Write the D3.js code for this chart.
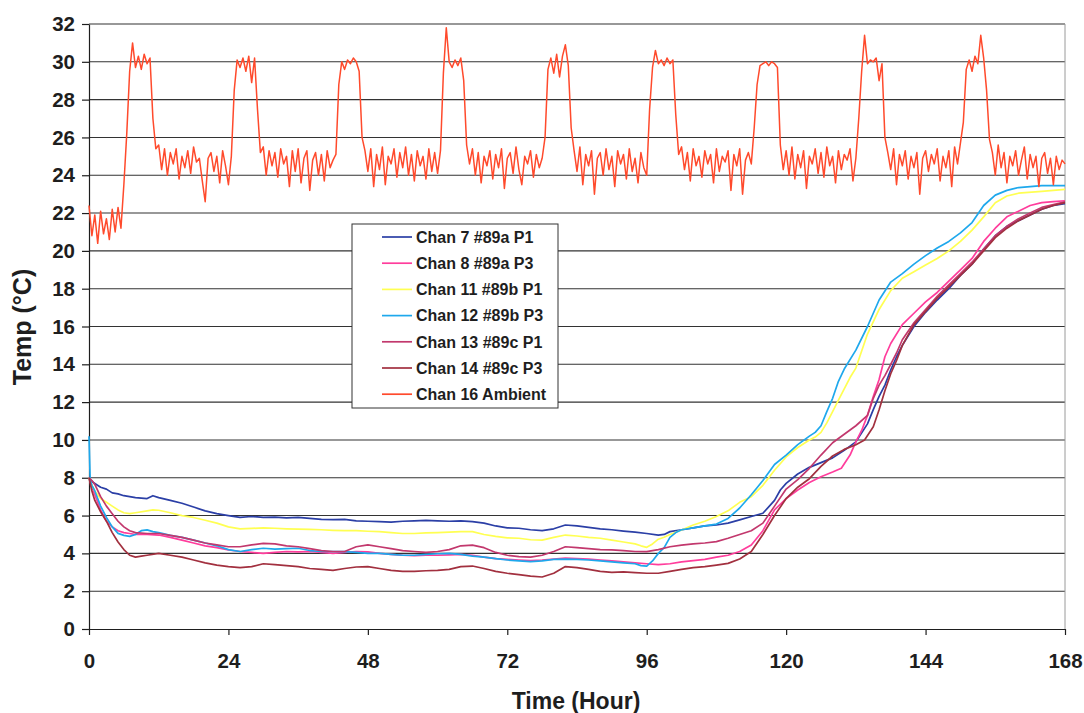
<!DOCTYPE html>
<html><head><meta charset="utf-8">
<script src="https://cdn.jsdelivr.net/npm/d3@7"></script>
<style>
body{margin:0;background:#fff}
text{font-family:"Liberation Sans",Arial,sans-serif;font-weight:bold;fill:#1e1e1e}
</style>
</head><body>
<svg id="chart" width="1084" height="713"></svg>
<script>
// ---------- data ----------
const xTicks = [0, 24, 48, 72, 96, 120, 144, 168];
const yTicks = [0, 2, 4, 6, 8, 10, 12, 14, 16, 18, 20, 22, 24, 26, 28, 30, 32];
const seriesNames = ["Chan 7 #89a P1", "Chan 8 #89a P3", "Chan 11 #89b P1", "Chan 12 #89b P3", "Chan 13 #89c P1", "Chan 14 #89c P3", "Chan 16 Ambient"];
const seriesColors = ["#2b3fa6", "#ff3d9c", "#ffff52", "#1ea8ec", "#c2386d", "#a2303f", "#ff4a2c"];

const chan7 = [[0,8.0],[0.5,7.8],[1,7.7],[2,7.5],[3,7.4],[4,7.2],[5,7.15],[6,7.05],[8,6.95],[10,6.9],[11,7.05],[12,6.95],[14,6.8],[16,6.65],[18,6.45],[20,6.25],[22,6.1],[24,6.0],[26,5.9],[28,5.95],[30,5.9],[32,5.92],[34,5.88],[36,5.9],[38,5.85],[40,5.8],[42,5.78],[44,5.8],[46,5.72],[48,5.7],[50,5.68],[52,5.65],[54,5.7],[56,5.72],[58,5.75],[60,5.72],[62,5.7],[64,5.72],[66,5.68],[68,5.6],[70,5.45],[72,5.35],[74,5.33],[76,5.25],[78,5.2],[80,5.3],[82,5.5],[84,5.45],[86,5.38],[88,5.3],[90,5.25],[92,5.18],[94,5.12],[96,5.05],[98,4.97],[99,5.0],[100,5.15],[102,5.25],[104,5.35],[106,5.45],[108,5.5],[110,5.6],[112,5.77],[114,5.95],[116,6.12],[118,6.8],[119,7.35],[120,7.7],[122,8.2],[124,8.55],[126,8.8],[128,9.05],[130,9.45],[132,9.9],[134,10.85],[135,11.6],[136,12.3],[137,12.9],[138,13.7],[139,14.4],[140,15.0],[142,16.0],[144,16.75],[146,17.4],[148,18.0],[150,18.7],[152,19.3],[154,20.1],[156,20.8],[158,21.3],[160,21.6],[162,21.9],[164,22.2],[166,22.4],[168,22.5]];

const chan8 = [[0,8.0],[0.5,7.5],[1,7.1],[2,6.3],[3,5.7],[4,5.4],[5,5.2],[6,5.1],[7,5.05],[8,5.0],[10,5.0],[12,4.97],[14,4.85],[16,4.7],[18,4.55],[20,4.4],[22,4.3],[24,4.18],[26,4.1],[28,4.05],[30,4.0],[32,4.05],[34,4.1],[36,4.08],[38,4.1],[40,4.05],[42,4.0],[44,4.05],[46,4.1],[48,4.08],[50,4.0],[52,3.95],[54,3.9],[56,3.88],[58,3.9],[60,3.9],[62,3.92],[64,3.95],[66,3.9],[68,3.8],[70,3.72],[72,3.68],[74,3.65],[76,3.62],[78,3.65],[80,3.7],[82,3.75],[84,3.72],[86,3.7],[88,3.65],[90,3.6],[92,3.55],[94,3.5],[96,3.45],[98,3.4],[100,3.45],[102,3.55],[104,3.62],[106,3.68],[108,3.8],[110,3.9],[112,4.1],[114,4.44],[116,5.2],[118,6.3],[120,6.9],[122,7.35],[124,7.75],[126,8.05],[128,8.3],[129.5,8.5],[131,9.2],[132,9.9],[133,10.5],[134,11.3],[135,12.3],[136,13.2],[137,14.4],[138,15.1],[140,16.1],[142,16.7],[144,17.3],[146,17.8],[148,18.4],[150,19.0],[152,19.6],[154,20.5],[156,21.2],[158,21.8],[160,22.1],[162,22.4],[164,22.55],[166,22.6],[168,22.65]];

const chan11 = [[0,8.0],[0.5,7.6],[1,7.3],[2,6.9],[3,6.7],[4,6.5],[5,6.3],[6,6.15],[7,6.1],[8,6.15],[10,6.25],[11,6.3],[12,6.28],[14,6.15],[16,6.0],[18,5.9],[20,5.75],[22,5.6],[24,5.4],[26,5.3],[28,5.32],[30,5.35],[32,5.33],[34,5.3],[36,5.28],[38,5.27],[40,5.25],[42,5.22],[44,5.2],[46,5.2],[48,5.17],[50,5.15],[52,5.1],[54,5.05],[56,5.05],[58,5.08],[60,5.1],[62,5.12],[64,5.15],[66,5.15],[68,5.0],[70,4.9],[72,4.82],[74,4.8],[76,4.72],[78,4.7],[80,4.85],[82,4.97],[84,4.92],[86,4.85],[88,4.8],[90,4.7],[92,4.6],[94,4.5],[95,4.4],[96,4.32],[97,4.5],[98,4.75],[99,4.85],[100,5.0],[102,5.24],[104,5.5],[106,5.7],[108,5.95],[110,6.25],[112,6.7],[114,7.0],[116,7.6],[118,8.4],[120,9.1],[122,9.6],[124,10.0],[125,10.15],[126,10.4],[127,10.9],[128,11.5],[129,12.1],[130,12.7],[131,13.3],[132,13.8],[134,15.6],[136,16.9],[138,17.9],[140,18.55],[142,18.9],[144,19.25],[146,19.6],[148,20.0],[150,20.5],[152,21.1],[154,21.8],[156,22.55],[158,22.9],[160,23.05],[164,23.15],[168,23.25]];

const chan12 = [[0,10.2],[0.2,7.9],[0.5,7.6],[1,7.3],[2,6.5],[3,5.9],[4,5.4],[5,5.06],[6,4.95],[7,4.9],[8,5.0],[9,5.2],[10,5.24],[11,5.15],[12,5.1],[14,4.95],[16,4.85],[18,4.7],[20,4.55],[22,4.4],[24,4.2],[26,4.1],[28,4.2],[30,4.27],[32,4.22],[34,4.25],[36,4.27],[38,4.15],[40,4.1],[42,4.1],[44,4.09],[46,4.05],[48,4.0],[50,4.0],[52,3.95],[54,3.9],[56,3.9],[58,3.95],[60,3.98],[62,4.0],[64,3.95],[66,3.85],[68,3.8],[70,3.72],[72,3.65],[74,3.6],[76,3.56],[78,3.6],[80,3.68],[82,3.7],[84,3.68],[86,3.65],[88,3.6],[90,3.55],[92,3.5],[94,3.45],[95,3.35],[96,3.33],[97,3.6],[98,4.0],[99,4.3],[100,4.85],[101,5.1],[102,5.25],[104,5.35],[106,5.45],[108,5.55],[110,5.85],[112,6.4],[114,7.1],[116,7.85],[118,8.7],[120,9.2],[122,9.75],[124,10.2],[125,10.4],[126,10.75],[127,11.5],[128,12.2],[129,13.1],[130,13.75],[132,14.75],[134,16.0],[136,17.4],[138,18.35],[140,18.8],[142,19.3],[144,19.75],[146,20.15],[148,20.5],[150,20.95],[152,21.5],[154,22.4],[156,22.95],[158,23.2],[160,23.35],[164,23.45],[168,23.45]];

const chan13 = [[0,8.0],[0.5,7.85],[1,7.65],[2,7.0],[3,6.5],[4,6.1],[5,5.7],[6,5.4],[7,5.2],[8,5.1],[10,5.05],[12,5.05],[14,4.95],[16,4.85],[18,4.7],[20,4.55],[22,4.45],[24,4.35],[26,4.35],[28,4.45],[30,4.53],[32,4.5],[34,4.4],[36,4.35],[38,4.25],[40,4.15],[42,4.1],[44,4.1],[46,4.35],[48,4.45],[50,4.35],[52,4.25],[54,4.15],[56,4.1],[58,4.05],[60,4.1],[62,4.2],[64,4.4],[66,4.44],[68,4.3],[70,4.05],[72,3.9],[74,3.83],[76,3.8],[78,3.9],[80,4.1],[82,4.35],[84,4.3],[86,4.25],[88,4.2],[90,4.18],[92,4.15],[94,4.1],[96,4.09],[98,4.2],[100,4.35],[102,4.44],[104,4.5],[106,4.55],[108,4.62],[110,4.8],[112,5.0],[114,5.2],[116,5.6],[118,6.5],[120,7.4],[122,7.9],[124,8.5],[126,9.2],[128,9.85],[130,10.3],[132,10.75],[134,11.3],[135,12.2],[136,12.9],[137,13.4],[138,14.0],[139,14.6],[140,15.3],[142,16.2],[144,16.9],[146,17.6],[148,18.2],[150,18.8],[152,19.4],[154,20.1],[156,20.8],[158,21.3],[160,21.7],[162,22.0],[164,22.3],[166,22.45],[168,22.6]];

const chan14 = [[0,8.0],[0.5,7.3],[1,6.8],[2,6.2],[3,5.7],[4,5.1],[5,4.6],[6,4.2],[7,3.9],[8,3.8],[9,3.85],[10,3.9],[12,4.0],[14,3.9],[16,3.8],[18,3.65],[20,3.5],[22,3.38],[24,3.3],[26,3.25],[28,3.3],[30,3.45],[32,3.4],[34,3.35],[36,3.3],[38,3.2],[40,3.15],[42,3.1],[44,3.2],[46,3.28],[48,3.3],[50,3.2],[52,3.1],[54,3.05],[56,3.05],[58,3.08],[60,3.1],[62,3.15],[64,3.3],[66,3.33],[68,3.2],[70,3.05],[72,2.95],[74,2.88],[76,2.8],[78,2.75],[80,2.95],[82,3.3],[84,3.25],[86,3.15],[88,3.05],[90,3.0],[92,3.02],[94,2.98],[96,2.95],[98,2.95],[100,3.05],[102,3.15],[104,3.25],[106,3.3],[108,3.38],[110,3.47],[112,3.7],[114,4.1],[116,5.0],[118,6.0],[120,6.9],[122,7.5],[124,7.95],[126,8.6],[128,9.15],[130,9.5],[132,9.75],[133.5,10.0],[135,10.7],[136,11.6],[137,12.6],[138,13.5],[139,14.2],[140,15.0],[142,16.1],[144,16.8],[146,17.5],[148,18.1],[150,18.7],[152,19.3],[154,20.0],[156,20.7],[158,21.2],[160,21.6],[162,21.9],[164,22.2],[166,22.4],[168,22.55]];

// Chan 16 ambient, one reading every half hour from 0 h to 168 h
const ambientStep = 0.5;
const ambient = [
22.4,20.8,21.9,20.4,22.1,20.9,21.7,20.6,22.2,21.0,22.3,21.2,23.5,26.2,29.5,31.0,29.7,30.3,29.6,30.4,29.9,30.2,27.0,25.4,
25.6,24.3,25.4,24.0,25.2,24.6,25.4,23.8,25.0,24.4,25.3,24.1,25.5,24.7,24.9,23.7,22.6,24.9,25.2,24.2,25.0,23.6,25.3,24.5,23.5,
25.0,28.5,30.1,29.7,30.2,29.5,30.3,28.9,30.2,27.5,25.2,
25.5,24.0,25.3,24.5,25.2,23.9,25.4,24.6,25.0,23.4,25.3,24.2,25.4,23.6,24.9,25.3,23.2,24.8,25.2,24.0,25.1,23.7,25.3,24.4,24.8,
25.1,28.8,30.0,29.6,30.1,29.9,30.2,30.0,29.5,26.0,25.3,
24.2,25.4,23.4,25.1,24.3,25.5,23.5,25.0,24.6,25.4,23.9,25.2,24.4,25.5,24.0,25.1,23.7,25.3,24.5,25.0,23.8,25.4,24.2,25.2,24.1,
25.3,29.4,31.8,30.0,29.7,30.1,29.8,30.2,29.0,25.6,24.6,
25.4,24.0,25.2,23.6,25.0,24.5,25.3,23.8,25.1,24.4,25.4,23.3,24.9,25.2,24.1,25.5,24.3,23.5,25.0,24.6,25.3,23.9,25.1,24.4,24.9,
26.0,29.6,30.2,29.4,30.4,29.2,30.3,30.9,29.8,26.5,25.3,
24.2,25.5,23.5,25.1,24.5,25.3,23.0,24.9,25.2,24.0,25.4,24.3,25.0,23.4,25.3,24.6,25.1,23.8,25.4,24.2,24.9,23.6,25.2,24.4,24.0,
27.5,29.7,30.6,29.9,30.1,29.8,30.2,29.9,30.1,27.2,25.1,
25.5,24.3,25.2,23.7,25.4,24.5,25.0,23.9,25.3,24.6,25.1,23.6,25.4,24.2,25.0,24.7,25.3,23.2,25.1,24.5,25.4,23.0,24.8,25.2,24.6,
26.5,28.8,29.8,29.9,30.0,29.8,30.0,29.9,29.7,25.6,24.3,
25.3,24.0,25.5,23.8,25.1,24.4,25.3,23.3,25.0,24.6,25.4,24.1,25.2,23.9,25.5,24.5,25.0,23.6,25.3,24.3,25.1,24.8,25.4,23.7,24.9,
27.0,29.5,31.4,29.9,30.1,30.0,30.2,29.0,29.9,26.0,25.2,
24.3,25.4,23.5,25.1,24.5,25.3,23.8,25.0,24.4,25.2,23.0,24.9,25.3,24.2,25.1,24.6,25.4,23.7,25.0,24.4,25.3,23.4,25.5,24.6,25.7,
26.8,29.6,30.1,29.5,30.3,29.9,31.4,30.2,28.5,25.9,25.2,
24.0,25.6,24.4,25.2,23.6,25.0,24.5,25.3,24.0,24.8,25.5,23.8,25.1,24.4,25.0,23.4,24.9,25.2,24.1,24.9,23.5,25.0,24.3,24.8,24.6
];

// ---------- drawing ----------
const svg = d3.select("#chart");
const mLeft = 89, mRight = 1065, mTop = 24, mBottom = 629;
const x = d3.scaleLinear().domain([0, 168]).range([mLeft, mRight]);
const y = d3.scaleLinear().domain([0, 32]).range([mBottom, mTop]);

// gridlines
svg.append("g").selectAll("line").data(yTicks.filter(d => d > 0)).join("line")
  .attr("x1", mLeft).attr("x2", mRight)
  .attr("y1", d => y(d)).attr("y2", d => y(d))
  .attr("stroke", "#333").attr("stroke-width", 1.1);
// right border
svg.append("line").attr("x1", mRight).attr("x2", mRight).attr("y1", mTop).attr("y2", mBottom)
  .attr("stroke", "#9a9a9a").attr("stroke-width", 1);

// axes
const yAxis = svg.append("g").attr("transform", `translate(${mLeft},0)`)
  .call(d3.axisLeft(y).tickValues(yTicks).tickSize(7).tickPadding(7).tickSizeOuter(0));
const xAxis = svg.append("g").attr("transform", `translate(0,${mBottom})`)
  .call(d3.axisBottom(x).tickValues(xTicks).tickSize(6).tickPadding(18).tickSizeOuter(0));
[yAxis, xAxis].forEach(g => {
  g.selectAll("path,line").attr("stroke", "#1e1e1e").attr("stroke-width", 1.2);
  g.selectAll("text").attr("font-size", 20.5).attr("font-family", '"Liberation Sans",Arial,sans-serif')
    .attr("font-weight", "bold").attr("fill", "#1e1e1e");
});

// series lines
const line = d3.line().x(d => x(d[0])).y(d => y(d[1]));
const ambientPts = ambient.map((v, i) => [i * ambientStep, v]);
const allSeries = [chan7, chan8, chan11, chan12, chan13, chan14, ambientPts];
allSeries.forEach((s, i) => {
  svg.append("path").datum(s).attr("d", line)
    .attr("fill", "none").attr("stroke", seriesColors[i])
    .attr("stroke-width", i === 6 ? 1.5 : 1.7).attr("stroke-linejoin", "round");
});

// axis titles
svg.append("text").attr("x", 576).attr("y", 709).attr("text-anchor", "middle")
  .attr("font-size", 23).text("Time (Hour)");
svg.append("text").attr("transform", "translate(31,327) rotate(-90)").attr("text-anchor", "middle")
  .attr("font-size", 25).text("Temp (°C)");

// legend
const lg = svg.append("g");
lg.append("rect").attr("x", 352).attr("y", 224).attr("width", 206).attr("height", 184)
  .attr("fill", "#fff").attr("stroke", "#333").attr("stroke-width", 1);
seriesNames.forEach((name, i) => {
  const cy = 237 + i * 26.2;
  lg.append("line").attr("x1", 382).attr("x2", 412).attr("y1", cy).attr("y2", cy)
    .attr("stroke", seriesColors[i]).attr("stroke-width", 1.7);
  lg.append("text").attr("x", 416).attr("y", cy).attr("dy", "0.36em")
    .attr("font-size", 16).text(name);
});
</script>
</body></html>
